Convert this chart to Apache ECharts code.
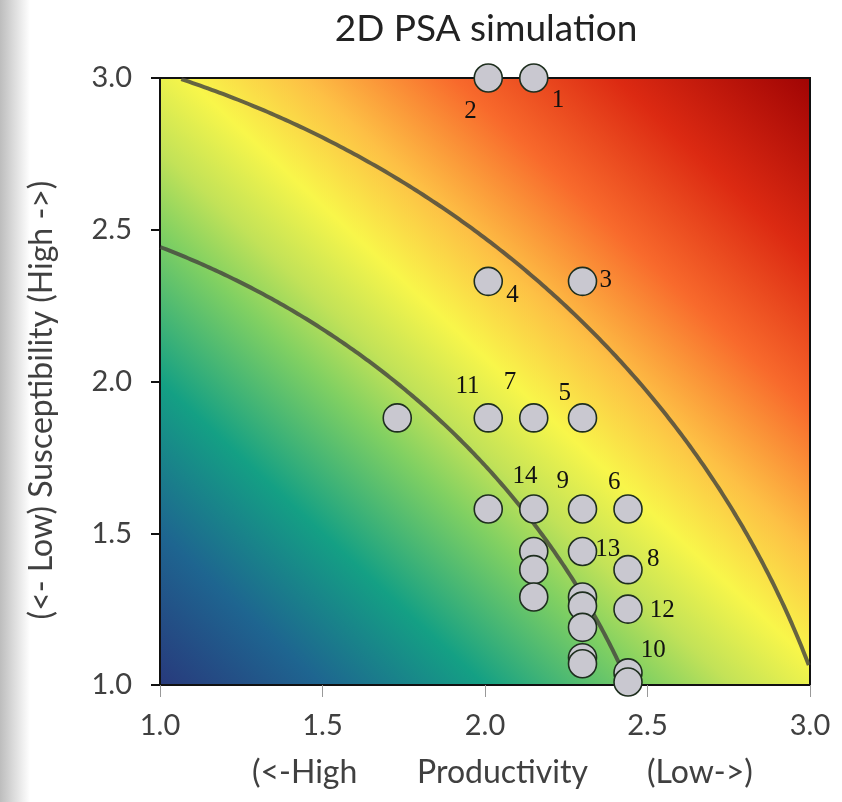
<!DOCTYPE html>
<html>
<head>
<meta charset="utf-8">
<script src="https://cdn.jsdelivr.net/npm/echarts@6/dist/echarts.min.js"></script>
<style>html,body{margin:0;padding:0;background:#fff;}#main{width:842px;height:802px;}</style>
</head>
<body>
<div id="main"></div>
<script>
// ---- data ----
var productivity   = [2.15, 2.01, 2.30, 2.01, 1.73, 2.01, 2.15, 2.30, 2.01, 2.15, 2.30, 2.44, 2.15, 2.30, 2.15, 2.44, 2.15, 2.30, 2.30, 2.44, 2.30, 2.30, 2.30, 2.44, 2.44];
var susceptibility = [3.00, 3.00, 2.33, 2.33, 1.88, 1.88, 1.88, 1.88, 1.58, 1.58, 1.58, 1.58, 1.44, 1.44, 1.38, 1.38, 1.29, 1.29, 1.26, 1.25, 1.19, 1.09, 1.07, 1.04, 1.01];
var pointLabels    = ['1', '2', '3', '4', '', '11', '7', '5', '', '14', '9', '6', '', '13', '', '8', '', '', '', '12', '', '', '', '10', ''];
var thresholdRadii = [2.64, 3.18];   // vulnerability contours sqrt(P^2+S^2)
var xTicks = [1.0, 1.5, 2.0, 2.5, 3.0];
var yTicks = [1.0, 1.5, 2.0, 2.5, 3.0];

// ---- label placement (style only, pixel offsets from marker centre) ----
var labelOffsets = {
  '1': [25, 23], '2': [-17, 34], '3': [24, 0], '4': [25, 15], '5': [-17, -24],
  '7': [-23, -35], '11': [-20, -31], '14': [-8, -32], '9': [-19, -27], '6': [-13, -26],
  '13': [26, -1], '8': [26, -9], '12': [35, 2], '10': [26, -22]
};
var SYM = 28;

var scatterData = productivity.map(function (p, i) {
  var lab = pointLabels[i];
  var item = { value: [p, susceptibility[i]], name: lab };
  if (lab) {
    var o = labelOffsets[lab] || [20, 0];
    item.label = {
      show: true, formatter: lab,
      position: [SYM / 2 + o[0], SYM / 2 + o[1]],
      align: 'center', verticalAlign: 'middle'
    };
  }
  return item;
});

var chart = echarts.init(document.getElementById('main'), null, { renderer: 'canvas' });

// linear gradient whose iso-lines follow x + y = const in data space
var bg = new echarts.graphic.LinearGradient(160, 685, 765.6, 36.5, [
  { offset: 0.000, color: '#283a7c' },
  { offset: 0.125, color: '#1e6590' },
  { offset: 0.250, color: '#14a084' },
  { offset: 0.375, color: '#80d062' },
  { offset: 0.440, color: '#c2e258' },
  { offset: 0.520, color: '#f8f64a' },
  { offset: 0.610, color: '#fdc045' },
  { offset: 0.725, color: '#f86a2c' },
  { offset: 0.850, color: '#dc2a12' },
  { offset: 1.000, color: '#a00404' }
], true);

var option = {
  animation: false,
  title: {
    text: '2D PSA simulation',
    left: 481, top: 6, textAlign: 'center',
    textStyle: { fontFamily: 'Lato', fontSize: 37, fontWeight: 'normal', color: '#222' }
  },
  grid: {
    left: 160, right: 32, top: 78, bottom: 117,
    show: true, backgroundColor: bg, borderColor: '#111', borderWidth: 2
  },
  xAxis: {
    type: 'value', min: 1, max: 3, interval: 0.5,
    axisLine: { show: true, lineStyle: { color: '#111', width: 2 } },
    axisTick: { show: true, length: 12, lineStyle: { color: '#999', width: 1 } },
    splitLine: { show: false },
    axisLabel: {
      margin: 26, fontFamily: 'Lato', fontSize: 29, color: '#404040',
      formatter: function (v) { return xTicks.indexOf(v) >= 0 ? v.toFixed(1) : ''; }
    }
  },
  yAxis: {
    type: 'value', min: 1, max: 3, interval: 0.5,
    axisLine: { show: true, lineStyle: { color: '#111', width: 2 } },
    axisTick: { show: true, length: 9, lineStyle: { color: '#111', width: 2 } },
    splitLine: { show: false },
    axisLabel: {
      margin: 28, fontFamily: 'Lato', fontSize: 29, color: '#404040',
      formatter: function (v) { return yTicks.indexOf(v) >= 0 ? v.toFixed(1) : ''; }
    }
  },
  graphic: [
    {
      type: 'rect', left: 0, top: 0, z: -10,
      shape: { width: 30, height: 802 },
      style: { fill: new echarts.graphic.LinearGradient(0, 0, 1, 0, [
        { offset: 0, color: '#bdbdbd' }, { offset: 1, color: '#ffffff' }]) }
    },
    {
      type: 'text', x: 42, y: 400, rotation: Math.PI / 2,
      style: { text: '(<- Low) Susceptibility (High ->)', font: '32px Lato', fill: '#404040',
               align: 'center', verticalAlign: 'middle' }
    },
    { type: 'text', left: 252, top: 757, style: { text: '(<-High', font: '32px Lato', fill: '#404040' } },
    { type: 'text', left: 417, top: 757, style: { text: 'Productivity', font: '32px Lato', fill: '#404040' } },
    { type: 'text', left: 647, top: 757, style: { text: '(Low->)', font: '32px Lato', fill: '#404040' } }
  ],
  series: [
    {
      type: 'custom',
      data: thresholdRadii.map(function (r) { return [r]; }),
      z: 2,
      silent: true,
      renderItem: function (params, api) {
        var r = api.value(0);
        var pts = [];
        for (var k = 0; k <= 400; k++) {
          var a = (Math.PI / 2) * k / 400;
          var x = r * Math.cos(a), y = r * Math.sin(a);
          if (x >= 1 && x <= 3 && y >= 1 && y <= 3) pts.push(api.coord([x, y]));
        }
        return {
          type: 'polyline',
          shape: { points: pts },
          style: { fill: null, stroke: 'rgba(70,70,62,0.82)', lineWidth: 4 }
        };
      }
    },
    {
      type: 'scatter',
      data: scatterData,
      z: 5,
      symbol: 'circle',
      symbolSize: SYM,
      itemStyle: { color: '#c9c8d0', borderColor: '#1e2e1e', borderWidth: 1.6, opacity: 1 },
      label: {
        show: false,
        fontFamily: 'Liberation Serif', fontSize: 25, color: '#111'
      },
      emphasis: { disabled: true }
    }
  ]
};
chart.setOption(option);
</script>
</body>
</html>
